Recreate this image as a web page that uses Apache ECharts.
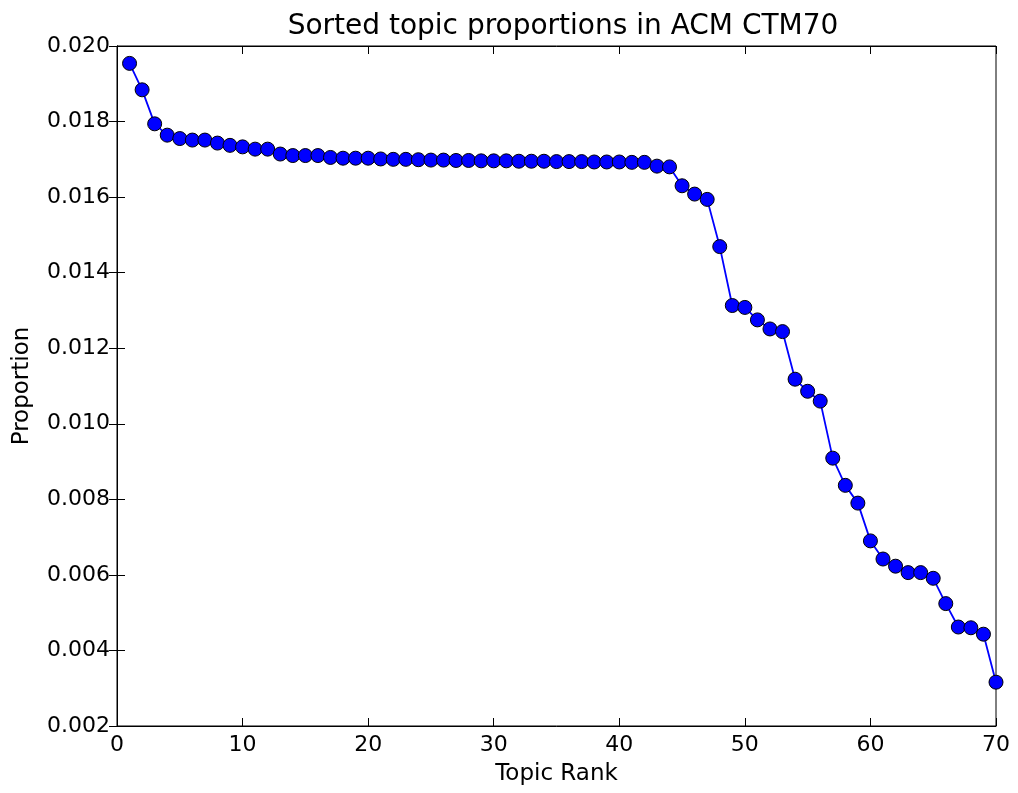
<!DOCTYPE html>
<html>
<head>
<meta charset="utf-8">
<script src="https://cdn.jsdelivr.net/npm/echarts@6/dist/echarts.min.js"></script>
<style>html,body{margin:0;padding:0;background:#fff}#c{width:1018px;height:793px}</style>
</head>
<body>
<div id="c"></div>
<script>
const ranks = [];
for (let i = 1; i <= 70; i++) ranks.push(i);
const proportions = [
  0.01954, 0.01884, 0.01794, 0.01764, 0.01755, 0.01751, 0.01751, 0.01743, 0.01737, 0.01733,
  0.01727, 0.01727, 0.01714, 0.01710, 0.01710, 0.01710, 0.01705, 0.01703, 0.01703, 0.01703,
  0.01701, 0.01700, 0.01700, 0.01699, 0.01698, 0.01698, 0.01697, 0.01697, 0.01696, 0.01696,
  0.01696, 0.01695, 0.01695, 0.01695, 0.01694, 0.01694, 0.01694, 0.01693, 0.01693, 0.01693,
  0.01692, 0.01692, 0.01682, 0.01680, 0.01630, 0.01608, 0.01594, 0.01469, 0.01313, 0.01308,
  0.01275, 0.01251, 0.01244, 0.01118, 0.01086, 0.01060, 0.00909, 0.00837, 0.00790, 0.00690,
  0.00642, 0.00623, 0.00606, 0.00606, 0.00591, 0.00524, 0.00462, 0.00460, 0.00443, 0.00316
];
const xTicks = [0, 10, 20, 30, 40, 50, 60, 70];
const yTicks = [0.002, 0.004, 0.006, 0.008, 0.010, 0.012, 0.014, 0.016, 0.018, 0.020];

const font = 'DejaVu Sans';
const chart = echarts.init(document.getElementById('c'));
const axisLine = {show: true, lineStyle: {color: '#000', width: 1}};
const tick = {show: true, inside: true, length: 8, lineStyle: {color: '#000', width: 1}};
chart.setOption({
  animation: false,
  title: {
    text: 'Sorted topic proportions in ACM CTM70',
    left: 558, top: 8, textAlign: 'center',
    textStyle: {fontFamily: font, fontSize: 28, fontWeight: 'normal', color: '#000'}
  },
  grid: {left: 117, right: 22, top: 46, bottom: 67, show: true, borderColor: '#000', borderWidth: 1},
  xAxis: [{
    type: 'value', min: xTicks[0], max: xTicks[xTicks.length - 1], interval: 10,
    name: 'Topic Rank', nameLocation: 'middle', nameGap: 37,
    nameTextStyle: {fontFamily: font, fontSize: 23, color: '#000'},
    axisLine: axisLine, axisTick: tick, splitLine: {show: false},
    axisLabel: {fontFamily: font, fontSize: 22, color: '#000', margin: 8}
  }, {
    type: 'value', position: 'top', min: xTicks[0], max: xTicks[xTicks.length - 1], interval: 10,
    axisLine: axisLine, axisTick: tick, splitLine: {show: false}, axisLabel: {show: false}
  }],
  yAxis: [{
    type: 'value', min: yTicks[0], max: yTicks[yTicks.length - 1], interval: 0.002,
    name: 'Proportion', nameLocation: 'middle', nameGap: 83,
    nameTextStyle: {fontFamily: font, fontSize: 23, color: '#000'},
    axisLine: axisLine, axisTick: tick, splitLine: {show: false},
    axisLabel: {fontFamily: font, fontSize: 22, color: '#000', margin: 7,
      formatter: v => v.toFixed(3)}
  }, {
    type: 'value', position: 'right', min: yTicks[0], max: yTicks[yTicks.length - 1], interval: 0.002,
    axisLine: axisLine, axisTick: tick, splitLine: {show: false}, axisLabel: {show: false}
  }],
  series: [{
    type: 'line',
    data: ranks.map((r, i) => [r, proportions[i]]),
    symbol: 'circle', symbolSize: 14,
    lineStyle: {color: '#0000ff', width: 1.8},
    itemStyle: {color: '#0000ff', borderColor: '#000', borderWidth: 1},
    clip: false
  }]
});
</script>
</body>
</html>
